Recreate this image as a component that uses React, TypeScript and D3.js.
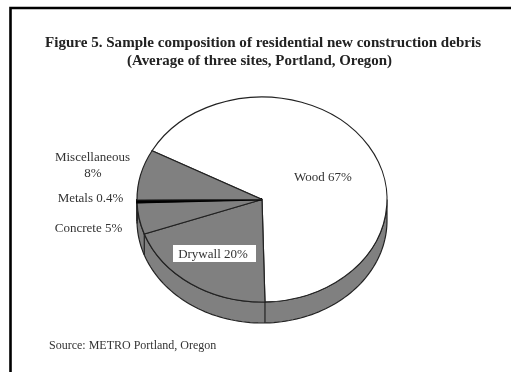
import React from "react";
import * as d3 from "d3";

// Debris composition, percent by weight, clockwise from the top-left edge of the wood slice
const categories = ["Wood", "Drywall", "Concrete", "Metals", "Miscellaneous"];
const shares = [67, 20, 5, 0.4, 8];
const sliceFills = ["#ffffff", "#808080", "#808080", "#000000", "#808080"];
const titleLines = [
  "Figure 5. Sample composition of residential new construction debris",
  "(Average of three sites, Portland, Oregon)",
];
const titleWidths = [436, 265];
const titleCentres = [263, 259.5];
const sourceNote = "Source: METRO Portland, Oregon";

const WIDTH = 511;
const HEIGHT = 372;
const CX = 262;
const CY = 199.5;
const RX = 125;
const RY = 102.5;
const DEPTH = 21;
const START_DEG = -61.6;
const FONT = "'Liberation Serif', serif";

// A point on the rim; the angle runs clockwise from twelve o'clock
const rim = (a: number): [number, number] => [
  CX + RX * Math.sin(a),
  CY - RY * Math.cos(a),
];

export default function App() {
  const startAngle = (START_DEG * Math.PI) / 180;
  const arcs = d3
    .pie<number>()
    .sort(null)
    .startAngle(startAngle)
    .endAngle(startAngle + 2 * Math.PI)(shares);
  const slice = d3.arc<d3.PieArcDatum<number>>().innerRadius(0).outerRadius(RX);

  // Front wall of the disc: the lower half of the ellipse pushed down by DEPTH
  const wallPoints = d3.range(0, 101).map((i) => rim(Math.PI / 2 + (i / 100) * Math.PI));
  const wall =
    (d3.line()(wallPoints) as string) +
    "L" +
    [...wallPoints]
      .reverse()
      .map(([x, y]) => `${x},${y + DEPTH}`)
      .join("L") +
    "Z";

  // Slice boundaries that continue down the front wall
  const wallEdges = arcs
    .map((d) => d.endAngle)
    .filter((a) => {
      const n = ((a % (2 * Math.PI)) + 2 * Math.PI) % (2 * Math.PI);
      return n > Math.PI / 2 && n < (3 * Math.PI) / 2;
    });

  return (
    <svg
      width={WIDTH}
      height={HEIGHT}
      viewBox={`0 0 ${WIDTH} ${HEIGHT}`}
      style={{ position: "absolute", left: 0, top: 0, background: "#fff", filter: "blur(0.7px)" }}
    >
      <path d="M10.5,380V8H520" fill="none" stroke="#000" strokeWidth={2.6} />

      {titleLines.map((t, i) => (
        <text
          key={t}
          x={titleCentres[i]}
          y={47 + i * 18}
          textAnchor="middle"
          fontFamily={FONT}
          fontWeight="bold"
          fontSize={14}
          textLength={titleWidths[i]}
          lengthAdjust="spacingAndGlyphs"
          fill="#222"
        >
          {t}
        </text>
      ))}

      <path d={wall} fill="#808080" stroke="#222" strokeWidth={1.2} />
      {wallEdges.map((a) => {
        const [x, y] = rim(a);
        return <line key={a} x1={x} y1={y} x2={x} y2={y + DEPTH} stroke="#222" strokeWidth={1.2} />;
      })}

      <g transform={`translate(${CX},${CY}) scale(1,${RY / RX})`}>
        {arcs.map((d, i) => (
          <path
            key={categories[i]}
            d={slice(d) as string}
            fill={sliceFills[i]}
            stroke={categories[i] === "Metals" ? "#000" : "#222"}
            strokeWidth={categories[i] === "Metals" ? 1.8 : 1.2}
            vectorEffect="non-scaling-stroke"
          />
        ))}
      </g>

      <g fontFamily={FONT} fontSize={13} fill="#333" textAnchor="middle">
        <text x={92.5} y={161}>Miscellaneous</text>
        <text x={93} y={177}>8%</text>
        <text x={90.5} y={202}>Metals 0.4%</text>
        <text x={88.5} y={232}>Concrete 5%</text>
        <text x={323} y={181}>Wood 67%</text>
      </g>
      <rect x={173} y={245} width={83} height={17} fill="#fff" />
      <text x={213} y={258} textAnchor="middle" fontFamily={FONT} fontSize={13} fill="#333">
        Drywall 20%
      </text>
      <text x={49} y={349} fontFamily={FONT} fontSize={12} fill="#333">
        {sourceNote}
      </text>
    </svg>
  );
}
